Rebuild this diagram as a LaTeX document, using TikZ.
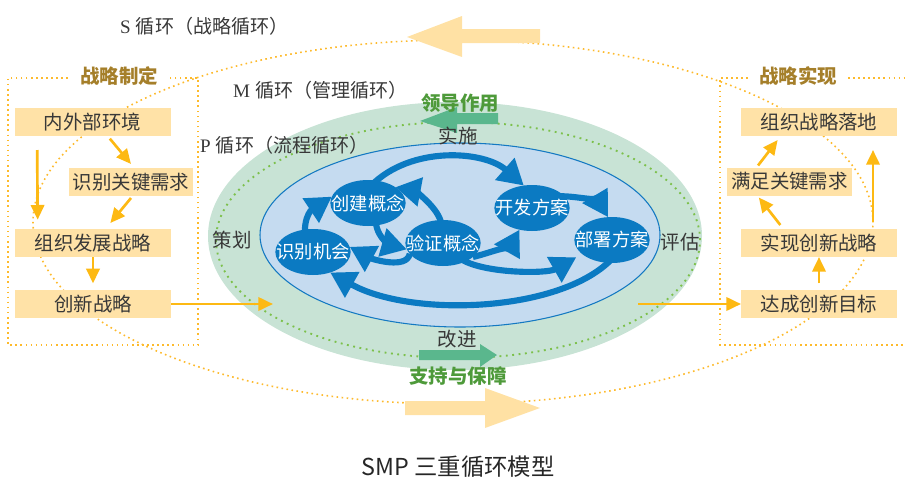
\documentclass[tikz,border=0pt]{standalone}
\usepackage{fontspec}
\setmainfont{Liberation Serif}
\newfontfamily\cjk{Noto Sans CJK SC}
\usetikzlibrary{arrows.meta,shapes.geometric}
\definecolor{dotor}{HTML}{FDBA2C}
\definecolor{boxfill}{HTML}{FFE2A7}
\definecolor{arrowor}{HTML}{FDB913}
\definecolor{bigar}{HTML}{FFE1A4}
\definecolor{greenbg}{HTML}{C8E3D5}
\definecolor{greendot}{HTML}{7CC04B}
\definecolor{greenar}{HTML}{5AB78D}
\definecolor{greentx}{HTML}{4E9A3A}
\definecolor{bluebg}{HTML}{C5DBF0}
\definecolor{blueln}{HTML}{1479C2}
\definecolor{bluenode}{HTML}{0B7AC2}
\definecolor{goldtx}{HTML}{A57F2A}
\definecolor{txt}{HTML}{383838}
\newcommand\zb[1]{\makebox[0pt]{#1}}
\begin{document}
\begin{tikzpicture}[x=0.75pt,y=-0.75pt,
  every node/.style={inner sep=0pt, outer sep=0pt},
  odot/.style={draw=dotor, line width=1.2pt, dash pattern=on 1.2pt off 2.6pt},
  gdot/.style={draw=greendot, line width=1.4pt, dash pattern=on 1.4pt off 3.4pt},
  obox/.style={fill=boxfill, minimum height=21pt, text=txt, font=\cjk\fontsize{14.6pt}{16pt}\selectfont},
  oarr/.style={draw=arrowor, line width=2pt, -{Triangle[length=11pt,width=10pt]}},
  bnode/.style={ellipse, fill=bluenode, minimum width=56.5pt, minimum height=34.5pt, text=white, font=\cjk\fontsize{13.7pt}{15pt}\selectfont},
  barr/.style={draw=bluenode, line width=4.6pt, -{Triangle[length=19pt,width=21pt]}},
  lbl/.style={text=txt, font=\fontsize{14.3pt}{16pt}\selectfont},
  cjl/.style={text=txt, font=\cjk\fontsize{14.6pt}{16pt}\selectfont},
  ttl/.style={text=goldtx, font=\cjk\bfseries\fontsize{14.6pt}{16pt}\selectfont},
  gtl/.style={text=greentx, font=\cjk\bfseries\fontsize{14.6pt}{16pt}\selectfont}
]
\useasboundingbox (0,0) rectangle (907,479);

% S loop
\draw[odot] (453,222) ellipse [x radius=315pt, y radius=136.5pt];

% frames
\draw[odot] (68,78) -- (8,78) -- (8,345) -- (198,345) -- (198,78) -- (167,78);
\draw[odot] (748,78) -- (720,78) -- (720,345) -- (905,345);
\draw[odot] (848,78) -- (905,78);

% M loop
\fill[greenbg] (455,236) ellipse [x radius=185.25pt, y radius=100.5pt];
\draw[gdot] (458,240) ellipse [x radius=181.5pt, y radius=88.5pt];

% P loop
\filldraw[fill=bluebg, draw=blueln, line width=0.8pt] (460,235) ellipse [x radius=150pt, y radius=69pt];

% big arrows
\fill[bigar] (540,29) -- (462,29) -- (462,16) -- (407,37) -- (462,57) -- (462,43) -- (540,43) -- cycle;
\fill[bigar] (405,401) -- (485,401) -- (485,388) -- (540,408) -- (485,428) -- (485,415) -- (405,415) -- cycle;

% green arrows
\fill[greenar] (498,113) -- (457,113) -- (457,107) -- (420,121) -- (457,133) -- (457,124) -- (498,124) -- cycle;
\fill[greenar] (419,350) -- (480,350) -- (480,344) -- (497,355) -- (480,367) -- (480,360) -- (419,360) -- cycle;

% left boxes
\node[obox, minimum width=117pt] (nei) at (92.5,122) {内外部环境};
\node[obox, minimum width=93pt] (req) at (131,182) {识别关键需求};
\node[obox, minimum width=117pt] (zhi) at (93,243) {组织发展战略};
\node[obox, minimum width=117pt] (cx) at (93,304) {创新战略};

% right boxes
\node[obox, minimum width=117pt] (zz) at (819,122) {组织战略落地};
\node[obox, minimum width=93.75pt] (mz) at (789.5,181.5) {满足关键需求};
\node[obox, minimum width=117pt] (sx) at (819,243) {实现创新战略};
\node[obox, minimum width=117pt] (dc) at (819,304) {达成创新目标};

% free ends
\coordinate (inP) at (273,304);
\coordinate (outP) at (638,304);

% left arrows
\draw[oarr] ([xshift=13pt,yshift=-2pt]nei.south) -- ([yshift=3pt]req.north);
\draw[oarr] ([xshift=17pt,yshift=-10.5pt]nei.south west) -- ([xshift=17pt,yshift=7pt]zhi.north west);
\draw[oarr] ([yshift=-1.5pt]req.south) -- ([xshift=13pt,yshift=4.5pt]zhi.north);
\draw[oarr] (zhi.south) -- ([yshift=5pt]cx.north);
\draw[oarr] (cx.east) -- (inP);

% right arrows
\draw[oarr] ([yshift=5pt]dc.north) -- (sx.south);
\draw[oarr] ([xshift=-29pt,yshift=3pt]sx.north) -- ([xshift=-23pt,yshift=-1.5pt]mz.south);
\draw[oarr] ([xshift=-23.6pt,yshift=1.5pt]mz.north) -- ([xshift=-31pt,yshift=-3pt]zz.south);
\draw[oarr] ([xshift=40.5pt,yshift=5pt]sx.north) -- ([xshift=40.5pt,yshift=-10.5pt]zz.south);
\draw[oarr] (outP) -- (dc.west);

% blue nodes
\node[bnode] (shib) at (313,252) {\zb{识别机会}};
\node[bnode] (chuang) at (368,203) {\zb{创建概念}};
\node[bnode] (yan) at (443,243) {\zb{验证概念}};
\node[bnode] (kai) at (532,208) {\zb{开发方案}};
\node[bnode] (bu) at (612,240) {\zb{部署方案}};

% blue arrows
\draw[barr, shorten <=-2pt] (shib.110) .. controls +(0,-20) and +(-15,10) .. (chuang.170);
\draw[barr, shorten <=-2pt] (chuang.290) .. controls +(2,15) and +(-14,-4) .. (yan.190);
\draw[barr] (yan.198) .. controls +(-3,16) and +(22,12) .. (shib.8);
\draw[barr, shorten <=-4pt] (yan.95) .. controls +(-2,-14) and +(16,3) .. (chuang.30);
\draw[barr, shorten <=-5pt] (chuang.70) .. controls +(35,-35) and +(-40,-35) .. (kai.110);
\draw[barr] (yan.335) .. controls +(14,-3) and +(-8,14) .. (kai.240);
\draw[barr, shorten <=-3pt] (kai.20) .. controls +(14,0) and +(-9,-15) .. (bu.100);
\draw[barr, shorten <=-3pt, shorten >=5pt] (yan.320) .. controls +(20,12) and +(-35,20) .. (bu.205);
\draw[barr, shorten <=-3pt] (bu.260) .. controls +(-50,50) and +(80,45) .. (shib.310);

% labels
\node[lbl, anchor=west] (slab) at (120,26) {S\hspace{4pt}{\cjk 循环（战略循环）}};
\node[lbl, anchor=west] (mlab) at (233,90) {M\hspace{4pt}{\cjk 循环（管理循环）}};
\node[lbl, anchor=west] (plab) at (200,145) {P\hspace{4pt}{\cjk 循环（流程循环）}};
\node[ttl] (zdt) at (119,76) {战略制定};
\node[ttl] (sxt) at (798,76) {战略实现};
\node[gtl] (ld) at (460,103) {领导作用};
\node[gtl] (zc) at (458,376) {支持与保障};
\node[cjl] (ss) at (458,136) {实施};
\node[cjl] (ch) at (232,240) {策划};
\node[cjl] (pg) at (680,242) {评估};
\node[cjl] (gj) at (457,339) {改进};
\node[text=black!85, font=\cjk\fontsize{17.5pt}{20pt}\selectfont] (title) at (458,467) {SMP 三重循环模型};
\end{tikzpicture}
\end{document}
